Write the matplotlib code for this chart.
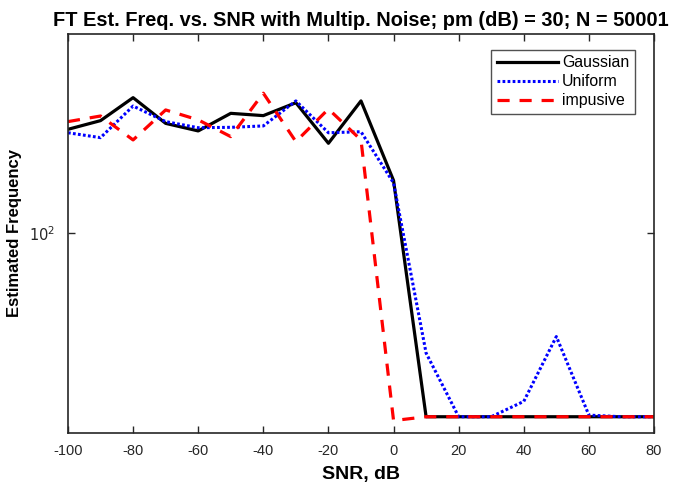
import matplotlib
matplotlib.use('Agg')
import matplotlib.pyplot as plt
from matplotlib.ticker import FixedLocator, NullLocator, FixedFormatter

plt.rcParams['font.family'] = ['Liberation Sans', 'DejaVu Sans']
plt.rcParams['axes.unicode_minus'] = False

snr = [-100, -90, -80, -70, -60, -50, -40, -30, -20, -10, 0, 10, 20, 30, 40, 50, 60, 70, 80]

gaussian = [143.6, 148.0, 160.3, 146.6, 142.8, 151.8, 150.6, 157.5, 136.8, 158.5,
            120.2, 52.9, 52.9, 52.9, 52.9, 52.9, 52.9, 52.9, 52.9]
uniform = [141.9, 139.5, 155.7, 147.5, 144.4, 144.6, 145.3, 158.5, 141.9, 142.4,
           119.2, 66.0, 52.9, 52.9, 55.8, 69.9, 53.2, 52.9, 52.9]
impulsive = [147.5, 150.4, 138.4, 153.6, 148.4, 140.0, 162.8, 137.6, 154.1, 138.4,
             52.2, 52.9, 52.9, 52.9, 52.9, 52.9, 52.9, 52.9, 52.9]

fig = plt.figure(figsize=(6.75, 4.86), dpi=100)
ax = fig.add_axes([0.1007, 0.1091, 0.8682, 0.8210])

ax.plot(snr, gaussian, color='black', linewidth=2.3, label='Gaussian')
ax.plot(snr, uniform, color='blue', linewidth=2.2, linestyle=(0, (0.9, 0.75)), label='Uniform')
ax.plot(snr, impulsive, color='red', linewidth=2.3, linestyle=(0, (3.8, 3.1)), label='impusive')

ax.set_yscale('log')
ax.set_xlim(-100, 80)
ax.set_ylim(50, 200)
ax.set_xticks(range(-100, 81, 20))
ax.yaxis.set_major_locator(FixedLocator([100]))
ax.yaxis.set_major_formatter(FixedFormatter(['$10^{2}$']))
ax.yaxis.set_minor_locator(NullLocator())
ax.xaxis.set_minor_locator(NullLocator())

ax.tick_params(direction='in', top=True, right=True, length=5, width=1,
               labelsize=10.5, colors='#262626')
ax.tick_params(axis='x', pad=8)
ax.tick_params(axis='y', pad=9)
for s in ax.spines.values():
    s.set_linewidth(1.2)
    s.set_color('#262626')

ax.set_xlabel('SNR, dB', fontsize=14, fontweight='bold', labelpad=6)
ax.set_ylabel('Estimated Frequency', fontsize=12, fontweight='bold', labelpad=5)
ax.set_title('FT Est. Freq. vs. SNR with Multip. Noise; pm (dB) = 30; N = 50001',
             fontsize=14.4, fontweight='bold', pad=6)

leg = ax.legend(loc='upper right', bbox_to_anchor=(0.9676, 0.960), borderaxespad=0,
                fontsize=11.4, frameon=True, fancybox=False, handlelength=3.9,
                borderpad=0.35, labelspacing=0.25, handletextpad=0.25)
leg.get_frame().set_edgecolor('#262626')
leg.get_frame().set_linewidth(1)

plt.savefig('out.png', dpi=100)
